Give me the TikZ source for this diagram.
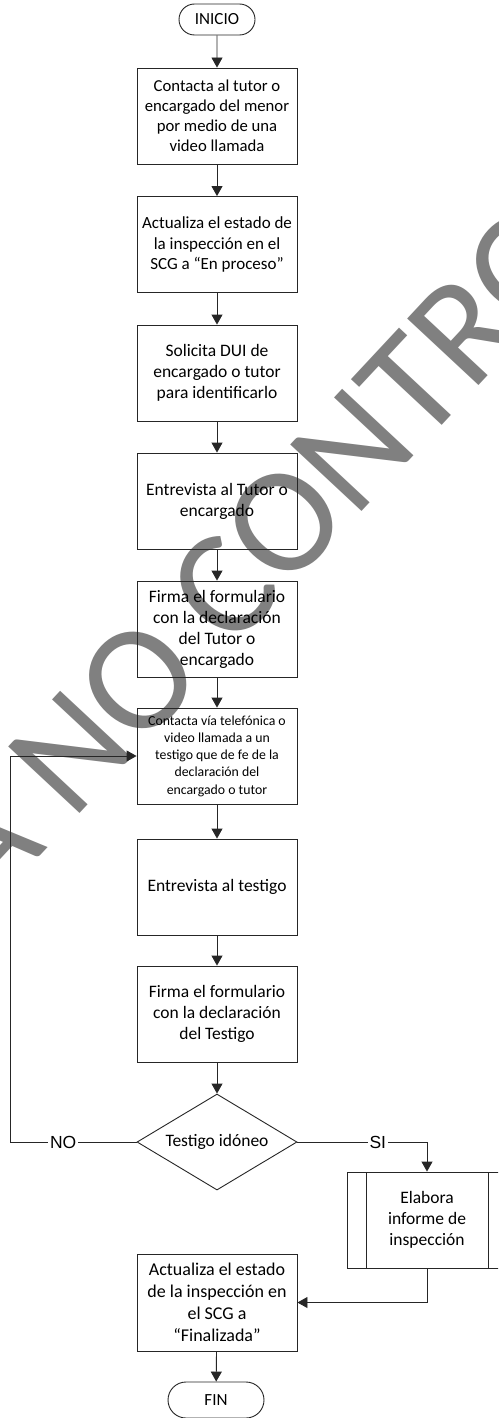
\documentclass[tikz,border=0pt]{standalone}
\usepackage{fontspec}
\setmainfont{Carlito}
\newfontfamily\labelfont{Liberation Sans}
\usetikzlibrary{arrows.meta,shapes.geometric,shapes.misc}

\tikzset{
  flowline/.style={draw=black!85, line width=0.9pt},
  arr/.style={flowline, -{Triangle[width=11pt,length=10pt]}},
  procbox/.style={flowline, rectangle, minimum width=160pt, minimum height=96pt,
    inner sep=0pt, align=center, font=\fontsize{17.5}{21}\selectfont},
  termbox/.style={flowline, rounded rectangle, minimum width=76pt, minimum height=31pt,
    inner sep=0pt, font=\fontsize{17}{20}\selectfont},
  decbox/.style={flowline, diamond, aspect=1.667, minimum width=160pt, minimum height=96pt,
    inner sep=0pt, align=center, font=\fontsize{17.5}{21}\selectfont},
  subbox/.style={procbox, path picture={
      \draw[black!85, line width=0.9pt]
        ([xshift=19pt]path picture bounding box.north west) --
        ([xshift=19pt]path picture bounding box.south west);
      \draw[black!85, line width=0.9pt]
        ([xshift=-19pt]path picture bounding box.north east) --
        ([xshift=-19pt]path picture bounding box.south east);}},
  lbl/.style={fill=white, inner sep=2pt, font=\labelfont\fontsize{17.5}{20}\selectfont},
  stamp/.style={text=black!50, inner sep=0pt, rotate=47,
    font=\fontsize{152}{152}\selectfont}
}

\begin{document}
\begin{tikzpicture}[x=1pt, y=-1pt]
  \useasboundingbox (0,0) rectangle (498,1418);
  \clip (0,0) rectangle (498,1418);
  \fill[white] (0,0) rectangle (498,1418);

  % watermark stamp behind the chart
  \node[stamp, anchor=base west] (stamp) at (72,822) {\llap{A }NO CONTROLADA};

  % main column
  \node[termbox] (inicio) at (217,19.5) {INICIO};
  \node[procbox, font=\fontsize{16.7}{20}\selectfont] (b1) at (217,116)
    {Contacta al tutor o\\encargado del menor\\por medio de una\\video llamada};
  \node[procbox, font=\fontsize{17}{20.5}\selectfont] (b2) at (217,244.5)
    {Actualiza el estado de\\la inspección en el\\SCG a “En proceso”};
  \node[procbox] (b3) at (217,373)
    {Solicita DUI de\\encargado o tutor\\para identificarlo};
  \node[procbox] (b4) at (217,501)
    {Entrevista al Tutor o\\encargado};
  \node[procbox] (b5) at (217,629)
    {Firma el formulario\\con la declaración\\del Tutor o\\encargado};
  \node[procbox, font=\fontsize{13.8}{17.3}\selectfont] (b6) at (217,756)
    {Contacta vía telefónica o\\video llamada a un\\testigo que de fe de la\\declaración del\\encargado o tutor};
  \node[procbox] (b7) at (217,887) {Entrevista al testigo};
  \node[procbox] (b8) at (217,1014)
    {Firma el formulario\\con la declaración\\del Testigo};
  \node[decbox] (dec) at (217,1142) {Testigo idóneo};
  \node[subbox] (sub) at (427,1220) {Elabora\\informe de\\inspección};
  \node[procbox, minimum height=97pt, font=\fontsize{18}{22}\selectfont] (b9) at (217,1302.5)
    {Actualiza el estado\\de la inspección en\\el SCG a\\“Finalizada”};
  \node[termbox, minimum width=96pt, minimum height=36pt] (fin) at (216,1400) {FIN};

  % connectors
  \draw[arr] (inicio) -- (b1);
  \draw[arr] (b1) -- (b2);
  \draw[arr] (b2) -- (b3);
  \draw[arr] (b3) -- (b4);
  \draw[arr] (b4) -- (b5);
  \draw[arr] (b5) -- (b6);
  \draw[arr] (b6) -- (b7);
  \draw[arr] (b7) -- (b8);
  \draw[arr] (b8) -- (dec);

  \coordinate (loop) at (10,1142);
  \draw[arr] (dec.west) -- node[lbl, pos=0.58] {NO} (loop) |- (b6.west);
  \draw[arr] (dec.east) -| node[lbl, pos=0.31] {SI} (sub.north);
  \draw[arr] (sub.south) |- (b9.east);
  \draw[arr] (b9) -- (fin);
\end{tikzpicture}
\end{document}
